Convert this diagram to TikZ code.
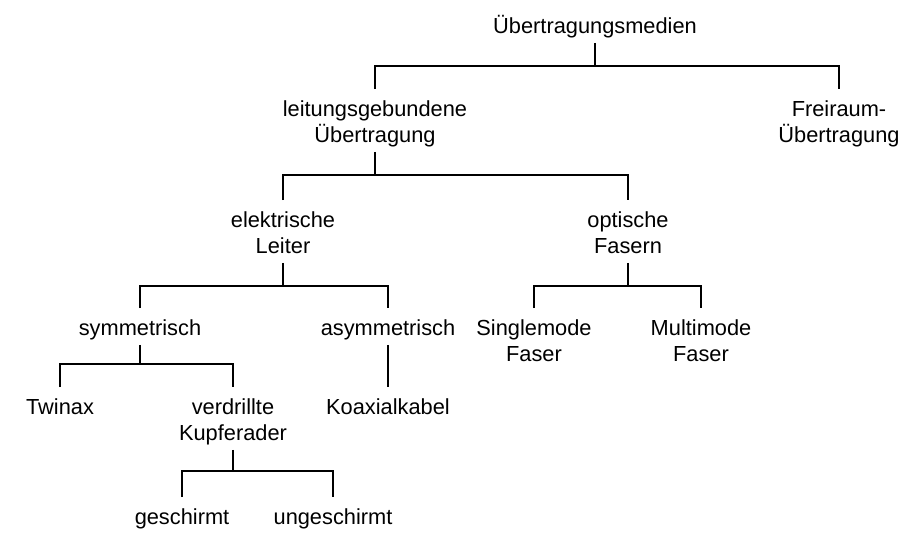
\documentclass[tikz,border=0pt]{standalone}
\usepackage{fontspec}
\setmainfont{Liberation Sans}
\usepackage{tikz}
\usepackage{xcolor}

\newcommand\medstrut{\rule[-3.6pt]{0pt}{16pt}}
\newcommand\zweizeilig[2]{\medstrut#1\\#2}

\tikzset{
    medium/.style={anchor=north, align=center, inner xsep=0pt, inner ysep=1pt,
        font={\fontsize{10.9}{13}\selectfont\lineskiplimit=-10pt},
        execute at begin node=\medstrut, execute at end node=\medstrut},
    branch/.style={line width=1pt, black}
}

\begin{document}
\begin{tikzpicture}[x=0.5pt, y=-0.5pt]
    \useasboundingbox (0,0) rectangle (924,543);

    % Wurzel
    \node[medium] (root) at (595,6) {Übertragungsmedien};

    % Ebene 1
    \node[medium] (leit) at (375,89) {\zweizeilig{leitungsgebundene}{Übertragung}};
    \node[medium] (frei) at (839,89) {\zweizeilig{Freiraum-}{Übertragung}};

    % Ebene 2
    \node[medium] (elek) at (283,200) {\zweizeilig{elektrische}{Leiter}};
    \node[medium] (opt) at (628,200) {\zweizeilig{optische}{Fasern}};

    % Ebene 3
    \node[medium] (sym) at (140,308) {symmetrisch};
    \node[medium] (asym) at (388,308) {asymmetrisch};
    \node[medium] (single) at (534,308) {\zweizeilig{Singlemode}{Faser}};
    \node[medium] (multi) at (701,308) {\zweizeilig{Multimode}{Faser}};

    % Ebene 4
    \node[medium] (twin) at (60,387) {Twinax};
    \node[medium] (verd) at (233,387) {\zweizeilig{verdrillte}{Kupferader}};
    \node[medium] (koax) at (388,387) {Koaxialkabel};

    % Ebene 5
    \node[medium] (gesch) at (182,497) {geschirmt};
    \node[medium] (unge) at (333,497) {ungeschirmt};

    % Verzweigungen
    \draw[branch] (leit.north) -- ++(0,-23) coordinate (b1) -| (frei.north);
    \draw[branch] (root.south) -- (root.south |- b1);

    \draw[branch] (elek.north) -- ++(0,-25) coordinate (b2) -| (opt.north);
    \draw[branch] (leit.south) -- (leit.south |- b2);

    \draw[branch] (sym.north) -- ++(0,-22) coordinate (b3) -| (asym.north);
    \draw[branch] (elek.south) -- (elek.south |- b3);

    \draw[branch] (single.north) -- ++(0,-22) coordinate (b4) -| (multi.north);
    \draw[branch] (opt.south) -- (opt.south |- b4);

    \draw[branch] (twin.north) -- ++(0,-23) coordinate (b5) -| (verd.north);
    \draw[branch] (sym.south) -- (sym.south |- b5);
    \draw[branch] (asym.south) -- (koax.north);

    \draw[branch] (gesch.north) -- ++(0,-26) coordinate (b6) -| (unge.north);
    \draw[branch] (verd.south) -- (verd.south |- b6);
\end{tikzpicture}
\end{document}
